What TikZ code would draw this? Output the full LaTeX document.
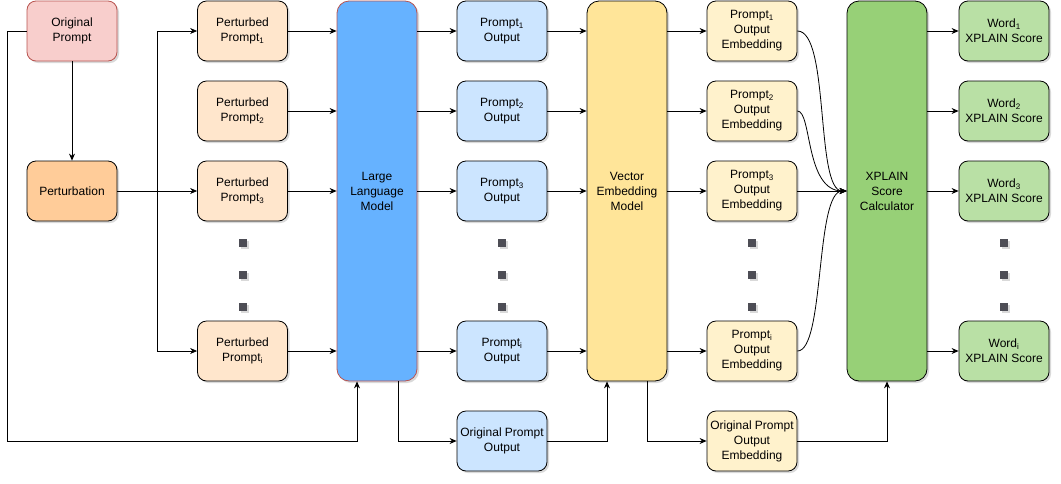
\documentclass[tikz,border=0pt]{standalone}
\usepackage{fontspec}
\setmainfont{Liberation Sans}
\usetikzlibrary{arrows.meta,shadows}
\definecolor{opfill}{HTML}{F8CECC}
\definecolor{opdraw}{HTML}{B85450}
\definecolor{pertfill}{HTML}{FFCC99}
\definecolor{ppfill}{HTML}{FFE6CC}
\definecolor{llmfill}{HTML}{66B2FF}
\definecolor{outfill}{HTML}{CCE5FF}
\definecolor{vemfill}{HTML}{FFE599}
\definecolor{embfill}{HTML}{FFF2CC}
\definecolor{xpfill}{HTML}{97D077}
\definecolor{wfill}{HTML}{B9E0A5}
\definecolor{dotc}{HTML}{4D4D55}
\begin{document}
\begin{tikzpicture}[x=1pt,y=-1pt,
  shd/.style={drop shadow={shadow xshift=2pt,shadow yshift=-2pt,opacity=0.15,fill=black}},
  box/.style={draw=black, line width=0.8pt, rounded corners=9pt, minimum width=90pt, minimum height=60pt,
    align=center, font=\fontsize{12}{15}\selectfont, inner sep=0pt, shd},
  tall/.style={box, minimum width=80pt, minimum height=380pt, rounded corners=12pt},
  arr/.style={-{Stealth[length=7pt,width=6pt]}, line width=0.8pt},
  dotbox/.style={fill=dotc, minimum size=8pt, inner sep=0pt, shd}
]
\useasboundingbox (0,0) rectangle (1061,483);

% column 1
\node[box, fill=opfill, draw=opdraw] (op) at (72,31) {Original\\Prompt};
\node[box, fill=pertfill] (pert) at (72,191) {Perturbation};

% column 2: perturbed prompts
\node[box, fill=ppfill] (pp1) at (242.5,31) {Perturbed\\Prompt\textsubscript{1}};
\node[box, fill=ppfill] (pp2) at (242.5,111) {Perturbed\\Prompt\textsubscript{2}};
\node[box, fill=ppfill] (pp3) at (242.5,191) {Perturbed\\Prompt\textsubscript{3}};
\node[box, fill=ppfill] (ppi) at (242.5,351) {Perturbed\\Prompt\textsubscript{i}};

% LLM
\node[tall, fill=llmfill, draw=opdraw] (llm) at (377,191) {Large\\Language\\Model};

% outputs
\node[box, fill=outfill] (o1) at (502,31) {Prompt\textsubscript{1}\\Output};
\node[box, fill=outfill] (o2) at (502,111) {Prompt\textsubscript{2}\\Output};
\node[box, fill=outfill] (o3) at (502,191) {Prompt\textsubscript{3}\\Output};
\node[box, fill=outfill] (oi) at (502,351) {Prompt\textsubscript{i}\\Output};
\node[box, fill=outfill] (opo) at (502,441) {Original Prompt\\Output};

% VEM
\node[tall, fill=vemfill] (vem) at (627,191) {Vector\\Embedding\\Model};

% embeddings
\node[box, fill=embfill] (e1) at (752,31) {Prompt\textsubscript{1}\\Output\\Embedding};
\node[box, fill=embfill] (e2) at (752,111) {Prompt\textsubscript{2}\\Output\\Embedding};
\node[box, fill=embfill] (e3) at (752,191) {Prompt\textsubscript{3}\\Output\\Embedding};
\node[box, fill=embfill] (ei) at (752,351) {Prompt\textsubscript{i}\\Output\\Embedding};
\node[box, fill=embfill] (eo) at (752,441) {Original Prompt\\Output\\Embedding};

% XPLAIN
\node[tall, fill=xpfill] (xp) at (887,191) {XPLAIN\\Score\\Calculator};

% word scores
\node[box, fill=wfill] (w1) at (1004,31) {Word\textsubscript{1}\\XPLAIN Score};
\node[box, fill=wfill] (w2) at (1004,111) {Word\textsubscript{2}\\XPLAIN Score};
\node[box, fill=wfill] (w3) at (1004,191) {Word\textsubscript{3}\\XPLAIN Score};
\node[box, fill=wfill] (wi) at (1004,351) {Word\textsubscript{i}\\XPLAIN Score};

% dots
\foreach \c/\x in {a/242.5,b/502,c/752,d/1004}{
  \node[dotbox] (dot\c1) at (\x,243) {};
  \node[dotbox] (dot\c2) at (\x,274.5) {};
  \node[dotbox] (dot\c3) at (\x,306.5) {};
}

% connectors column 1
\draw[arr] (op) -- (pert);
\draw[arr] (pert.east) -- (pp3.west);
\coordinate (sp) at (157,191);
\draw[arr] (sp) |- (pp1.west);
\draw[arr] (sp) |- (ppi.west);
\coordinate (lx) at (7,441);
\draw[arr] (op.west) -| (lx) -| ([xshift=-20pt]llm.south);

% perturbed -> LLM
\foreach \n in {pp1,pp2,pp3,ppi}{
  \draw[arr] (\n.east) -- (\n.east -| llm.west);
}
% LLM -> outputs
\foreach \n in {o1,o2,o3,oi}{
  \draw[arr] (\n.west -| llm.east) -- (\n.west);
}
\draw[arr] ([xshift=21pt]llm.south) |- (opo.west);

% outputs -> VEM
\foreach \n in {o1,o2,o3,oi}{
  \draw[arr] (\n.east) -- (\n.east -| vem.west);
}
\draw[arr] (opo.east) -| ([xshift=-20pt]vem.south);

% VEM -> embeddings
\foreach \n in {e1,e2,e3,ei}{
  \draw[arr] (\n.west -| vem.east) -- (\n.west);
}
\draw[arr] ([xshift=20pt]vem.south) |- (eo.west);

% embeddings -> XPLAIN
\draw[arr] (e1.east) .. controls (830,31) and (815,191) .. (xp.west);
\draw[arr] (e2.east) .. controls (812,111) and (805,191) .. (xp.west);
\draw[arr] (e3.east) -- (xp.west);
\draw[arr] (ei.east) .. controls (825,351) and (815,191) .. (xp.west);
\draw[arr] (eo.east) -| (xp.south);

% XPLAIN -> words
\foreach \n in {w1,w2,w3,wi}{
  \draw[arr] (\n.west -| xp.east) -- (\n.west);
}
\end{tikzpicture}
\end{document}
